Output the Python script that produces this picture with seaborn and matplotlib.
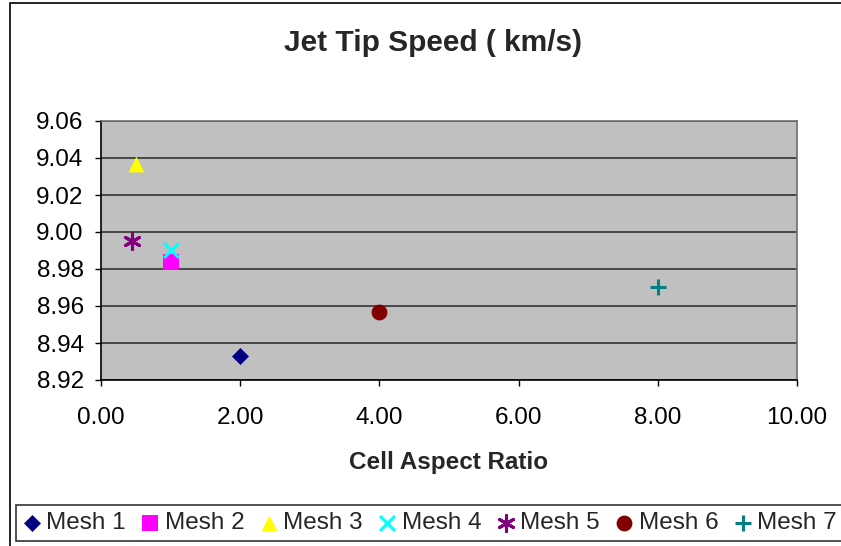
import matplotlib
matplotlib.use("Agg")
import matplotlib.pyplot as plt
from matplotlib.patches import Rectangle
import seaborn as sns

# values
meshes = ["Mesh 1", "Mesh 2", "Mesh 3", "Mesh 4", "Mesh 5", "Mesh 6", "Mesh 7"]
aspect_ratio = [2.0, 1.0, 0.5, 1.0, 0.45, 4.0, 8.0]
tip_speed = [8.933, 8.984, 9.037, 8.990, 8.995, 8.957, 8.970]

colors = ["#000080", "#FF00FF", "#FFFF00", "#00FFFF", "#800080", "#800000", "#008080"]
markers = ["D", "s", "^", "x", (6, 2, 0), "o", "+"]
sizes = [75, 125, 130, 115, 130, 130, 130]

sns.set_style("white")
plt.rcParams["font.family"] = ["Liberation Sans", "DejaVu Sans"]

fig = plt.figure(figsize=(8.41, 5.46), dpi=100)
ax = fig.add_axes([101 / 841, 1 - 380 / 546, 696 / 841, 259 / 546])
ax.set_facecolor("#C0C0C0")

for i, name in enumerate(meshes):
    m = markers[i]
    line_art = m in ("x", "+") or isinstance(m, tuple)
    sns.scatterplot(x=[aspect_ratio[i]], y=[tip_speed[i]], ax=ax, marker=m,
                    color=colors[i], s=sizes[i], label=name,
                    linewidth=2.2 if line_art else 0, zorder=3)

ax.set_xlim(0, 10)
ax.set_ylim(8.92, 9.06)
xt = [0, 2, 4, 6, 8, 10]
ax.set_xticks(xt)
ax.set_xticklabels([f"{v:.2f}" for v in xt])
yt = [8.92, 8.94, 8.96, 8.98, 9.00, 9.02, 9.04, 9.06]
ax.set_yticks(yt)
ax.set_yticklabels([f"{v:.2f}" for v in yt])
ax.yaxis.grid(True, color="#333333", linewidth=1.2)
ax.set_axisbelow(True)
for sp in ax.spines.values():
    sp.set_color("#707070")
    sp.set_linewidth(1.2)
ax.spines["left"].set_color("black")
ax.spines["bottom"].set_color("black")
ax.tick_params(axis="both", direction="out", length=4.5, width=1, colors="black",
               labelsize=17.5, bottom=True, left=True)
ax.tick_params(axis="x", pad=15)
ax.tick_params(axis="y", pad=8)
ax.set_xlabel("Cell Aspect Ratio", fontsize=17.5, fontweight="bold", labelpad=16)
ax.set_ylabel("")
fig.text(0.5 + 12 / 841, 1 - 51 / 546, "Jet Tip Speed ( km/s)", ha="center", va="baseline",
         fontsize=21.5, fontweight="bold")

handles, labels = ax.get_legend_handles_labels()
ax.get_legend().remove()
leg = fig.legend(handles, labels, loc="center left", ncol=7,
                 bbox_to_anchor=(16 / 841, 1 - 523 / 546), fontsize=17.5,
                 frameon=True, fancybox=False, edgecolor="black",
                 handletextpad=0.25, columnspacing=0.65, handlelength=0.7,
                 borderpad=0.3, borderaxespad=0, markerscale=1.0)
leg.get_frame().set_linewidth(1.2)

fig.patches.append(Rectangle((10 / 841, -0.05), 1.1, 0.05 + 1 - 3 / 546, transform=fig.transFigure,
                             fill=False, edgecolor="black", linewidth=1.2))

fig.savefig("out.png", dpi=100)
